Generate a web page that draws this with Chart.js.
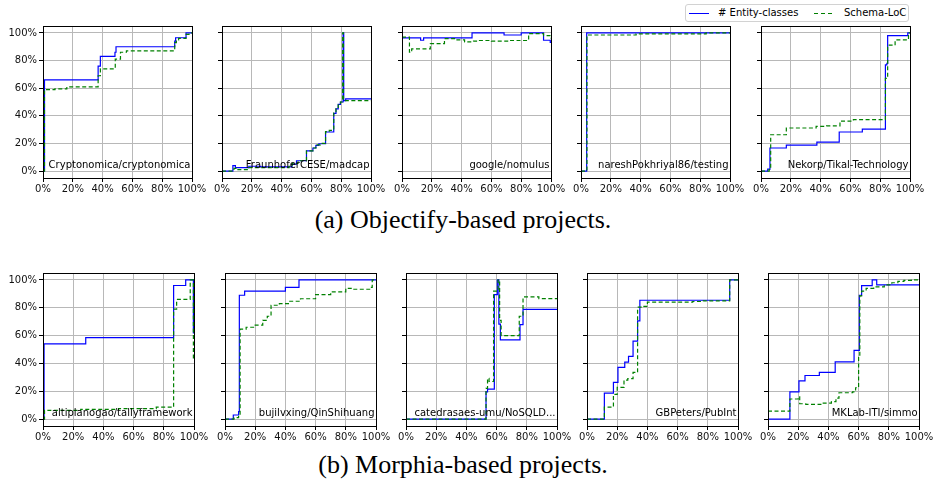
<!DOCTYPE html>
<html>
<head>
<meta charset="utf-8">
<script src="https://cdn.jsdelivr.net/npm/chart.js@4.4.0/dist/chart.umd.min.js"></script>
<style>
  body { margin: 0; background: #fff; width: 933px; height: 485px; position: relative; overflow: hidden; font-family: "DejaVu Sans", sans-serif; }
  .panel { position: absolute; }
  #legend { position: absolute; left: 685px; top: 4px; width: 222px; height: 16px; border: 1px solid #d2d2d2; border-radius: 3px; background: #fff; }
  #legend .sw { position: absolute; top: 8px; width: 20px; height: 1.4px; }
  #legend .lab { position: absolute; top: 2px; font-size: 10px; line-height: 12px; color: #000; white-space: nowrap; }
  .caption { position: absolute; left: 0; width: 926px; text-align: center; font-family: "Liberation Serif", serif; font-size: 26px; line-height: 26px; color: #000; }
</style>
</head>
<body>
<div id="legend">
  <span class="sw" style="left:3px;background:#0000ff"></span>
  <span class="lab" style="left:32px"># Entity-classes</span>
  <span class="sw" style="left:128px;background:repeating-linear-gradient(90deg,#008000 0 4.5px,transparent 4.5px 7px)"></span>
  <span class="lab" style="left:158px">Schema-LoC</span>
</div>
<div class="caption" style="top:207px">(a) Objectify-based projects.</div>
<div class="caption" style="top:452px">(b) Morphia-based projects.</div>
<script>
const xTickValues = [0, 20, 40, 60, 80, 100];
const xTickLabels = ['0%', '20%', '40%', '60%', '80%', '100%'];
const yTickValues = [0, 20, 40, 60, 80, 100];
const yTickLabels = ['0%', '20%', '40%', '60%', '80%', '100%'];

const projects = [
  'Cryptonomica/cryptonomica', 'FraunhoferCESE/madcap', 'google/nomulus',
  'nareshPokhriyal86/testing', 'Nekorp/Tikal-Technology',
  'altiplanogao/tallyframework', 'bujilvxing/QinShihuang', 'catedrasaes-umu/NoSQLD...',
  'GBPeters/PubInt', 'MKLab-ITI/simmo'
];

// [% of history, % of final size] — each value holds until the next point
const entity1 = [[0,0],[1,66],[37,76],[38.5,83],[48.3,86],[49,90],[88.4,94],[89,96.5],[96,100],[100,100]];
const schema1 = [[0,0],[1,59],[8,59.5],[16,61],[37,69],[38.5,74],[48.5,81],[52,86],[56,87],[88.4,93],[89.5,95],[91,96],[96,99],[98,100],[100,100]];

const entity2 = [[0,0],[7.3,4],[9,2.5],[18,3.5],[26,3],[47,5],[50,7.5],[56.7,14.7],[61,16.7],[63,18.6],[65,19.8],[69.5,28.3],[75,41.8],[76.5,45],[78,48.3],[79.5,50],[81.3,100],[81.7,51],[83,52.2],[100,52.2]];
const schema2 = [[0,0],[8,2],[9.5,1],[17.5,2.5],[45,3.5],[47,5.5],[51,7.5],[56.7,14.7],[61,16.7],[63,19],[66,20],[69.5,28.5],[72,29.5],[75,42],[76.5,45],[78,48],[79.5,50],[81,100],[81.5,51],[100,51]];

const entity3 = [[0,96.4],[12.5,94.7],[14.5,96.4],[47,100],[68.5,98.5],[80,100],[95,94.7],[99.5,93.2],[100,93.2]];
const schema3 = [[0,97],[5,86],[6.5,88.4],[19,92.3],[28.5,95.9],[36,95],[42,93.5],[48,94],[52,94.5],[60,94],[72,94.5],[85,99.5],[95,98],[100,96]];

const entity4 = [[0,0],[3.8,100],[100,100]];
const schema4 = [[0,0],[4,98.5],[37,99.3],[84,100],[100,100]];

const entity5 = [[0,0],[4.5,1.4],[6,16.7],[17,18.8],[37.5,21],[52.5,28.3],[68,30.4],[83.5,76.8],[84.5,78],[85,98],[98.5,100],[100,100]];
const schema5 = [[0,0],[5.5,1],[6.5,26.3],[17,31.2],[37,32.4],[44,32.7],[53,36.2],[62,37.2],[83.5,67.1],[85,91.1],[90,94.9],[99,98],[99.5,100],[100,100]];

const entity6 = [[0,0],[0.7,54.1],[28.3,58.6],[86.5,96],[94.5,100],[99.6,62],[100,62]];
const schema6 = [[0,0],[1,6.2],[25,7],[50,7.5],[75,8.5],[86.5,79],[88.5,86],[97.5,100],[99.6,43],[100,43]];

const entity7 = [[0,0],[5.5,2.9],[9,5.3],[9.5,89],[13,91.9],[40,94.7],[49,100],[100,100]];
const schema7 = [[0,0],[6,1],[9,2],[10,64.6],[14,66],[20,67.5],[25,71],[28,73.9],[30.5,81.8],[36,83],[42,84.7],[50,86.5],[60,89.5],[70,91.5],[80,94],[84,93.3],[95.8,94.7],[97.5,100],[100,100]];

const entity8 = [[0,0],[53,19.6],[54,21.5],[58.5,89.5],[60.5,100],[61.5,68.2],[62.5,56.9],[75.5,67.9],[77.5,78.9],[100,78.9]];
const schema8 = [[0,0],[53,22],[54,29.2],[55,27],[58,91.9],[61,100],[62,71],[63,60],[75,73.9],[77.5,87.8],[88,86.6],[100,86.6]];

const entity9 = [[0,0],[11.5,18.7],[17.5,26.3],[20.5,37.1],[25,40.9],[27.5,45],[30.5,56],[33.5,70.6],[35,85.4],[94.5,100],[100,100]];
const schema9 = [[0,0],[11.5,8.6],[17.5,17.7],[20,22.7],[24.5,28],[27,29],[30.5,33.5],[33.5,80.4],[36.5,81],[40,84],[70,84.5],[77,85],[94.5,100],[100,100]];

const entity10 = [[0,0],[14.5,19.6],[20.5,27.5],[24.5,31.3],[34,33.5],[44.5,41.1],[57,49.3],[60.5,89],[62,95.9],[69,100],[72,96.4],[100,96.4]];
const schema10 = [[0,5.7],[14.5,14.4],[20,16],[21,11],[25,10.5],[35,11.5],[42,12.5],[45,15],[47,18.9],[56,19.5],[58,22.5],[60,45],[60.8,88.5],[62,92],[65,94],[70,95],[77,96.5],[82,98],[86,99],[90,99.7],[95,100],[100,100]];

const entitySeries = [entity1, entity2, entity3, entity4, entity5, entity6, entity7, entity8, entity9, entity10];
const schemaSeries = [schema1, schema2, schema3, schema4, schema5, schema6, schema7, schema8, schema9, schema10];

// plot-area placement of the two rows of small multiples
const rows = [
  { top: 26, height: 152, width: 149, lefts: [43, 222, 402, 581, 761] },
  { top: 273, height: 153, width: 151, lefts: [43, 225, 406, 587, 768] }
];

const panelFrame = {
  id: 'panelFrame',
  afterDraw(chart, args, opts) {
    const { ctx, chartArea: a } = chart;
    ctx.save();
    ctx.font = '10px "DejaVu Sans"';
    ctx.fillStyle = '#000';
    ctx.textAlign = 'right';
    ctx.textBaseline = 'alphabetic';
    ctx.fillText(opts.name, a.right - 1.5, a.bottom - (a.bottom - a.top) * 0.05 - 2.4);
    ctx.strokeStyle = '#000';
    ctx.lineWidth = 1;
    const l = Math.round(a.left) + 0.5, t = Math.round(a.top) + 0.5;
    ctx.strokeRect(l, t, Math.round(a.right) - Math.round(a.left), Math.round(a.bottom) - Math.round(a.top));
    ctx.restore();
  }
};

const toPoints = arr => arr.map(p => ({ x: p[0], y: p[1] }));

function makePanel(idx, left, top, w, h, showY) {
  const yw = showY ? 43 : 14;
  const padTop = 8, padRight = 18, xh = 20;
  const div = document.createElement('div');
  div.className = 'panel';
  div.style.left = (left - yw) + 'px';
  div.style.top = (top - padTop) + 'px';
  div.style.width = (yw + w + padRight) + 'px';
  div.style.height = (padTop + h + xh) + 'px';
  const canvas = document.createElement('canvas');
  div.appendChild(canvas);
  document.body.appendChild(div);

  new Chart(canvas, {
    type: 'line',
    data: {
      datasets: [{
        label: '# Entity-classes',
        data: toPoints(entitySeries[idx]),
        borderColor: '#0000ff',
        borderWidth: 1.2,
        stepped: 'before',
        pointRadius: 0,
        order: 2
      }, {
        label: 'Schema-LoC',
        data: toPoints(schemaSeries[idx]),
        borderColor: '#008000',
        borderWidth: 1.2,
        borderDash: [4, 2.5],
        stepped: 'before',
        pointRadius: 0,
        order: 1
      }]
    },
    options: {
      responsive: true,
      maintainAspectRatio: false,
      animation: false,
      layout: { padding: { top: padTop, right: padRight, left: 0, bottom: 0 } },
      plugins: {
        legend: { display: false },
        tooltip: { enabled: false },
        panelFrame: { name: projects[idx] }
      },
      scales: {
        x: {
          type: 'linear',
          min: 0,
          max: 100,
          afterBuildTicks: s => { s.ticks = xTickValues.map(v => ({ value: v })); },
          afterFit: s => { s.height = xh; },
          ticks: {
            autoSkip: false,
            maxRotation: 0,
            padding: 1,
            color: '#111',
            font: { family: 'DejaVu Sans', size: 10 },
            callback: (v, i) => xTickLabels[i]
          },
          grid: { color: '#b8b8b8', tickColor: '#000', tickLength: 4 },
          border: { display: false }
        },
        y: {
          min: -5,
          max: 105,
          afterBuildTicks: s => { s.ticks = yTickValues.map(v => ({ value: v })); },
          afterFit: s => { s.width = yw; },
          ticks: {
            display: showY,
            autoSkip: false,
            padding: 2,
            color: '#111',
            font: { family: 'DejaVu Sans', size: 10 },
            callback: (v, i) => yTickLabels[i]
          },
          grid: { color: '#b8b8b8', tickColor: '#000', tickLength: 4 },
          border: { display: false }
        }
      }
    },
    plugins: [panelFrame]
  });
}

rows.forEach((row, r) => {
  row.lefts.forEach((left, c) => {
    makePanel(r * 5 + c, left, row.top, row.width, row.height, c === 0);
  });
});
</script>
</body>
</html>
